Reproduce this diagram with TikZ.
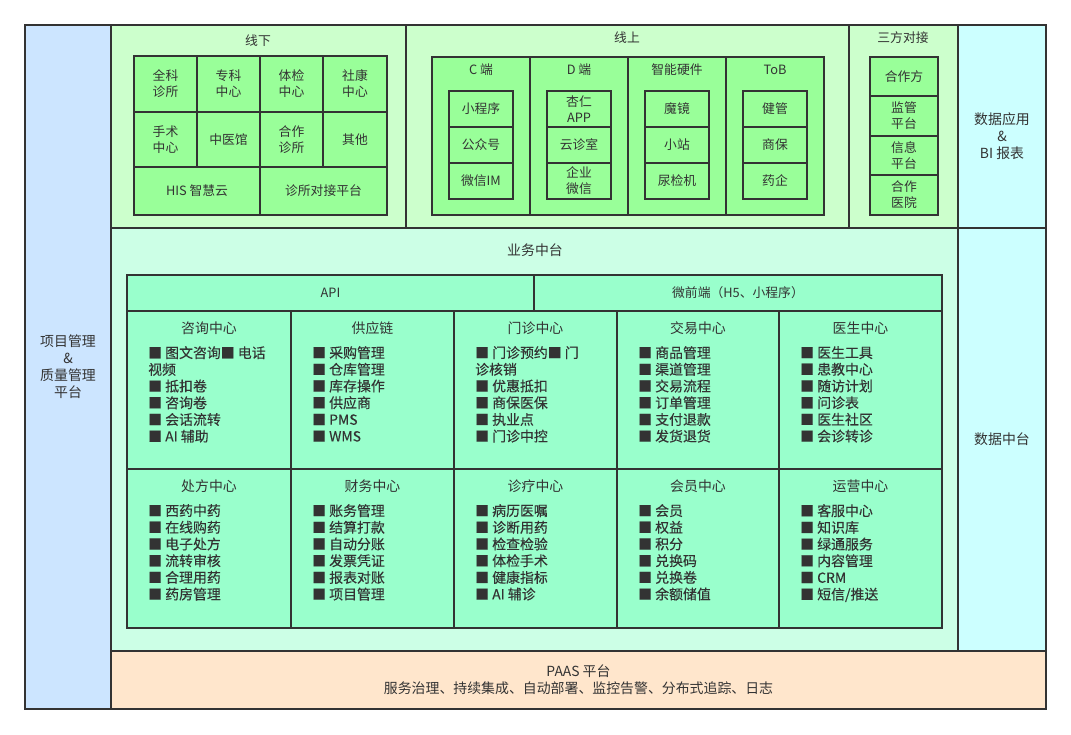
\documentclass[tikz,border=0pt]{standalone}
\usepackage{fontspec}
\setmainfont{Noto Sans CJK SC}
\newfontfamily\itemfont[FakeBold=0.25]{Noto Sans CJK SC}
\definecolor{bd}{HTML}{333333}
\definecolor{txt}{HTML}{333333}
\definecolor{pmblue}{HTML}{CCE5FF}
\definecolor{topgreen}{HTML}{CCFFCC}
\definecolor{cellgreen}{HTML}{99FF99}
\definecolor{datacyan}{HTML}{CCFFFF}
\definecolor{bizmint}{HTML}{CCFFE6}
\definecolor{cellmint}{HTML}{99FFCC}
\definecolor{paasorange}{HTML}{FFE6CC}
\newcommand\fs[2]{\fontsize{#1}{#2}\selectfont}
\newcommand\mkcell[7]{\node[#6, minimum width={#4pt-#2pt}, minimum height={#5pt-#3pt}] (#1) at ({(#2+#4)/2},{(#3+#5)/2}) {#7};}
\tikzset{
 frame/.style={draw=bd, line width=1.5pt, inner sep=0pt, outer sep=0pt, text=txt, font=\fs{13.9}{17}, align=center},
 topcell/.style={frame, fill=cellgreen, font=\fs{12.8}{16}},
 bizcell/.style={frame, fill=cellmint},
 lbl/.style={text=txt, inner sep=0pt, align=center},
 small/.style={font=\fs{12.8}{16}},
 big/.style={font=\fs{13.9}{17}},
 itemlist/.style={text=txt, inner sep=0pt, align=left, anchor=north west, font=\itemfont\fs{13.9}{16.7}},
}
\begin{document}
\begin{tikzpicture}[x=1pt,y=-1pt]
\path[use as bounding box, fill=white] (0,0) rectangle (1071,735);
% outer panels
\mkcell{pm}{25}{25}{111}{709}{frame, fill=pmblue}{项目管理\\\&\\质量管理\\平台}
\mkcell{xx}{111}{25}{406}{228}{frame, fill=topgreen}{}
\mkcell{xs}{406}{25}{849}{228}{frame, fill=topgreen}{}
\mkcell{sf}{849}{25}{958}{228}{frame, fill=topgreen}{}
\mkcell{da}{958}{25}{1046}{228}{frame, fill=datacyan}{}
\mkcell{yw}{111}{228}{958}{651}{frame, fill=bizmint}{}
\mkcell{dm}{958}{228}{1046}{651}{frame, fill=datacyan}{数据中台}
\mkcell{paas}{111}{651}{1046}{709}{frame, fill=paasorange}{PAAS 平台\\服务治理、持续集成、自动部署、监控告警、分布式追踪、日志}
\node[lbl, big] (da-t) at (1002,136) {数据应用\\\&\\BI 报表};
% titles
\node[lbl, small] (xx-t) at (258,41) {线下};
\node[lbl, small] (xs-t) at (627,38) {线上};
\node[lbl, small] (sf-t) at (903,38) {三方对接};
\node[lbl, big] (yw-t) at (535,250) {业务中台};
% offline grid
\mkcell{o11}{134}{56}{197}{112}{topcell}{全科\\诊所}
\mkcell{o12}{197}{56}{260}{112}{topcell}{专科\\中心}
\mkcell{o13}{260}{56}{323}{112}{topcell}{体检\\中心}
\mkcell{o14}{323}{56}{387}{112}{topcell}{社康\\中心}
\mkcell{o21}{134}{112}{197}{167}{topcell}{手术\\中心}
\mkcell{o22}{197}{112}{260}{167}{topcell}{中医馆}
\mkcell{o23}{260}{112}{323}{167}{topcell}{合作\\诊所}
\mkcell{o24}{323}{112}{387}{167}{topcell}{其他}
\mkcell{o31}{134}{167}{260}{215}{topcell}{HIS 智慧云}
\mkcell{o32}{260}{167}{387}{215}{topcell}{诊所对接平台}
% online columns
\mkcell{c1}{432}{57}{530}{215}{topcell}{}
\mkcell{c2}{530}{57}{628}{215}{topcell}{}
\mkcell{c3}{628}{57}{726}{215}{topcell}{}
\mkcell{c4}{726}{57}{824}{215}{topcell}{}
\node[lbl, small] (c1-t) at (481,69.5) {C 端};
\node[lbl, small] (c2-t) at (579,69.5) {D 端};
\node[lbl, small] (c3-t) at (677,69.5) {智能硬件};
\node[lbl, small] (c4-t) at (775,69.5) {ToB};
\mkcell{c1a}{449}{91}{513}{127}{topcell}{小程序}
\mkcell{c1b}{449}{127}{513}{163}{topcell}{公众号}
\mkcell{c1c}{449}{163}{513}{199}{topcell}{微信IM}
\mkcell{c2a}{547}{91}{611}{127}{topcell}{杏仁\\APP}
\mkcell{c2b}{547}{127}{611}{163}{topcell}{云诊室}
\mkcell{c2c}{547}{163}{611}{199}{topcell}{企业\\微信}
\mkcell{c3a}{645}{91}{709}{127}{topcell}{魔镜}
\mkcell{c3b}{645}{127}{709}{163}{topcell}{小站}
\mkcell{c3c}{645}{163}{709}{199}{topcell}{尿检机}
\mkcell{c4a}{743}{91}{807}{127}{topcell}{健管}
\mkcell{c4b}{743}{127}{807}{163}{topcell}{商保}
\mkcell{c4c}{743}{163}{807}{199}{topcell}{药企}
% third party
\mkcell{s1}{870}{57}{938}{96}{topcell}{合作方}
\mkcell{s2}{870}{96}{938}{136}{topcell}{监管\\平台}
\mkcell{s3}{870}{136}{938}{175}{topcell}{信息\\平台}
\mkcell{s4}{870}{175}{938}{215}{topcell}{合作\\医院}
% business grid
\mkcell{api}{127}{275}{534}{311}{bizcell, small}{API}
\mkcell{wqd}{534}{275}{942}{311}{bizcell, small}{微前端（H5、小程序）}
\mkcell{b11}{127}{311}{291}{469}{bizcell}{}
\mkcell{b12}{291}{311}{454}{469}{bizcell}{}
\mkcell{b13}{454}{311}{617}{469}{bizcell}{}
\mkcell{b14}{617}{311}{779}{469}{bizcell}{}
\mkcell{b15}{779}{311}{942}{469}{bizcell}{}
\mkcell{b21}{127}{469}{291}{628}{bizcell}{}
\mkcell{b22}{291}{469}{454}{628}{bizcell}{}
\mkcell{b23}{454}{469}{617}{628}{bizcell}{}
\mkcell{b24}{617}{469}{779}{628}{bizcell}{}
\mkcell{b25}{779}{469}{942}{628}{bizcell}{}
\node[lbl, big] (b11-t) at (209,328) {咨询中心};
\node[lbl, big] (b12-t) at (372.5,328) {供应链};
\node[lbl, big] (b13-t) at (535.5,328) {门诊中心};
\node[lbl, big] (b14-t) at (698,328) {交易中心};
\node[lbl, big] (b15-t) at (860.5,328) {医生中心};
\node[lbl, big] (b21-t) at (209,486) {处方中心};
\node[lbl, big] (b22-t) at (372.5,486) {财务中心};
\node[lbl, big] (b23-t) at (535.5,486) {诊疗中心};
\node[lbl, big] (b24-t) at (698,486) {会员中心};
\node[lbl, big] (b25-t) at (860.5,486) {运营中心};
\node[itemlist] (b11-i) at (148,346) {■ 图文咨询■ 电话\\视频\\■ 抵扣卷\\■ 咨询卷\\■ 会话流转\\■ AI 辅助};
\node[itemlist] (b12-i) at (312,346) {■ 采购管理\\■ 仓库管理\\■ 库存操作\\■ 供应商\\■ PMS\\■ WMS};
\node[itemlist] (b13-i) at (475,346) {■ 门诊预约■ 门\\诊核销\\■ 优惠抵扣\\■ 商保医保\\■ 执业点\\■ 门诊中控};
\node[itemlist] (b14-i) at (638,346) {■ 商品管理\\■ 渠道管理\\■ 交易流程\\■ 订单管理\\■ 支付退款\\■ 发货退货};
\node[itemlist] (b15-i) at (800,346) {■ 医生工具\\■ 患教中心\\■ 随访计划\\■ 问诊表\\■ 医生社区\\■ 会诊转诊};
\node[itemlist] (b21-i) at (148,504) {■ 西药中药\\■ 在线购药\\■ 电子处方\\■ 流转审核\\■ 合理用药\\■ 药房管理};
\node[itemlist] (b22-i) at (312,504) {■ 账务管理\\■ 结算打款\\■ 自动分账\\■ 发票凭证\\■ 报表对账\\■ 项目管理};
\node[itemlist] (b23-i) at (475,504) {■ 病历医嘱\\■ 诊断用药\\■ 检查检验\\■ 体检手术\\■ 健康指标\\■ AI 辅诊};
\node[itemlist] (b24-i) at (638,504) {■ 会员\\■ 权益\\■ 积分\\■ 兑换码\\■ 兑换卷\\■ 余额储值};
\node[itemlist] (b25-i) at (800,504) {■ 客服中心\\■ 知识库\\■ 绿通服务\\■ 内容管理\\■ CRM\\■ 短信/推送};
\end{tikzpicture}
\end{document}
